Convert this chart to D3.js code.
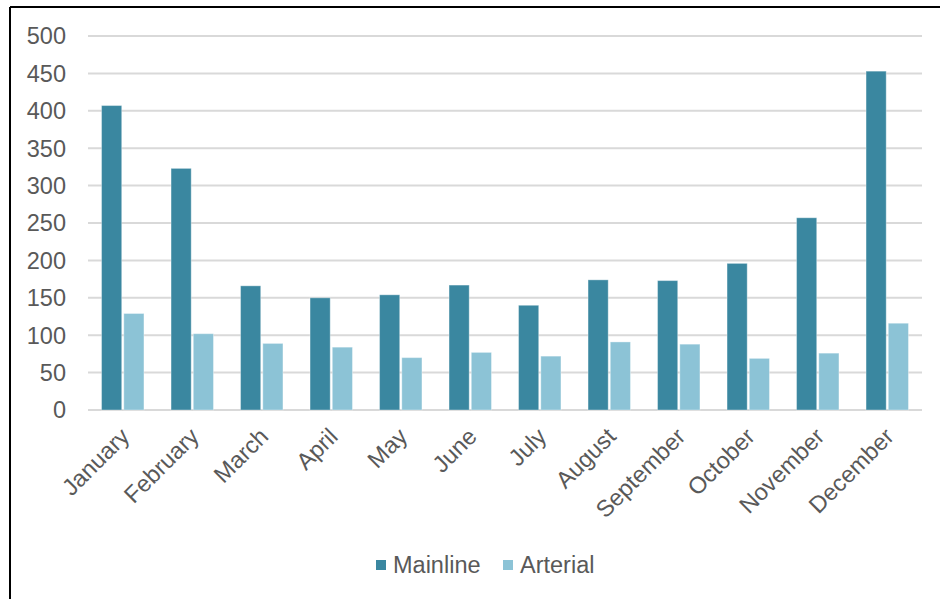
<!DOCTYPE html>
<html>
<head>
<meta charset="utf-8">
<script src="https://cdn.jsdelivr.net/npm/d3@7"></script>
<style>
  html, body { margin: 0; padding: 0; background: #ffffff; }
  svg { display: block; font-family: "Liberation Sans", Arial, sans-serif; }
</style>
</head>
<body>
<svg id="chart" width="940" height="599"></svg>
<script>
// Monthly counts by road type
const months = ["January", "February", "March", "April", "May", "June",
                "July", "August", "September", "October", "November", "December"];
const mainline = [407, 323, 166, 150, 154, 167, 140, 174, 173, 196, 257, 453];
const arterial = [129, 102, 89, 84, 70, 77, 72, 91, 88, 69, 76, 116];
const seriesNames = ["Mainline", "Arterial"];
const seriesColors = ["#3a87a0", "#8cc3d6"];
const yTicks = [0, 50, 100, 150, 200, 250, 300, 350, 400, 450, 500];

const svg = d3.select("#chart");
const textColor = "#595959";
const fontSize = 23.5;

const plot = { left: 88, right: 922, top: 36, bottom: 410 };

const x = d3.scaleBand().domain(months).range([plot.left, plot.right]).padding(0);
const y = d3.scaleLinear().domain([0, 500]).range([plot.bottom, plot.top]);

// Frame edges
svg.append("line").attr("x1", 10).attr("x2", 10).attr("y1", 7).attr("y2", 599)
  .attr("stroke", "#000").attr("stroke-width", 2);
svg.append("line").attr("x1", 10).attr("x2", 940).attr("y1", 7).attr("y2", 7)
  .attr("stroke", "#000").attr("stroke-width", 2);

// Gridlines
svg.append("g")
  .selectAll("line")
  .data(yTicks)
  .join("line")
  .attr("x1", plot.left).attr("x2", plot.right)
  .attr("y1", d => y(d)).attr("y2", d => y(d))
  .attr("stroke", "#d9d9d9").attr("stroke-width", 2);

// Y axis labels
svg.append("g")
  .selectAll("text")
  .data(yTicks)
  .join("text")
  .attr("x", 66)
  .attr("y", d => y(d))
  .attr("dy", "0.36em")
  .attr("text-anchor", "end")
  .attr("fill", textColor)
  .attr("font-size", fontSize)
  .text(d => d);

// Bars: two side-by-side columns per month
const barW = x.bandwidth() * 0.29;
const gap = x.bandwidth() * 0.03;
const offsets = [-gap / 2 - barW, gap / 2];
const allSeries = [mainline, arterial];

allSeries.forEach((vals, si) => {
  svg.append("g")
    .selectAll("rect")
    .data(months.map((m, i) => ({ m, v: vals[i] })))
    .join("rect")
    .attr("x", d => x(d.m) + x.bandwidth() / 2 + offsets[si])
    .attr("width", barW)
    .attr("y", d => y(d.v))
    .attr("height", d => y(0) - y(d.v))
    .attr("fill", seriesColors[si])
    .attr("stroke", "rgba(255,255,255,0.35)")
    .attr("stroke-width", 1);
});

// Category labels, rotated
svg.append("g")
  .selectAll("text")
  .data(months)
  .join("text")
  .attr("transform", d => `translate(${x(d) + x.bandwidth() / 2 + 8},${438}) rotate(-45)`)
  .attr("text-anchor", "end")
  .attr("fill", textColor)
  .attr("font-size", fontSize)
  .text(d => d);

// Legend
const legend = svg.append("g");
const legendX = [376, 503];
seriesNames.forEach((name, i) => {
  legend.append("rect")
    .attr("x", legendX[i]).attr("y", 560)
    .attr("width", 10).attr("height", 10)
    .attr("fill", seriesColors[i]);
  legend.append("text")
    .attr("x", legendX[i] + 17).attr("y", 572.5)
    .attr("fill", textColor)
    .attr("font-size", fontSize)
    .text(name);
});
</script>
</body>
</html>
